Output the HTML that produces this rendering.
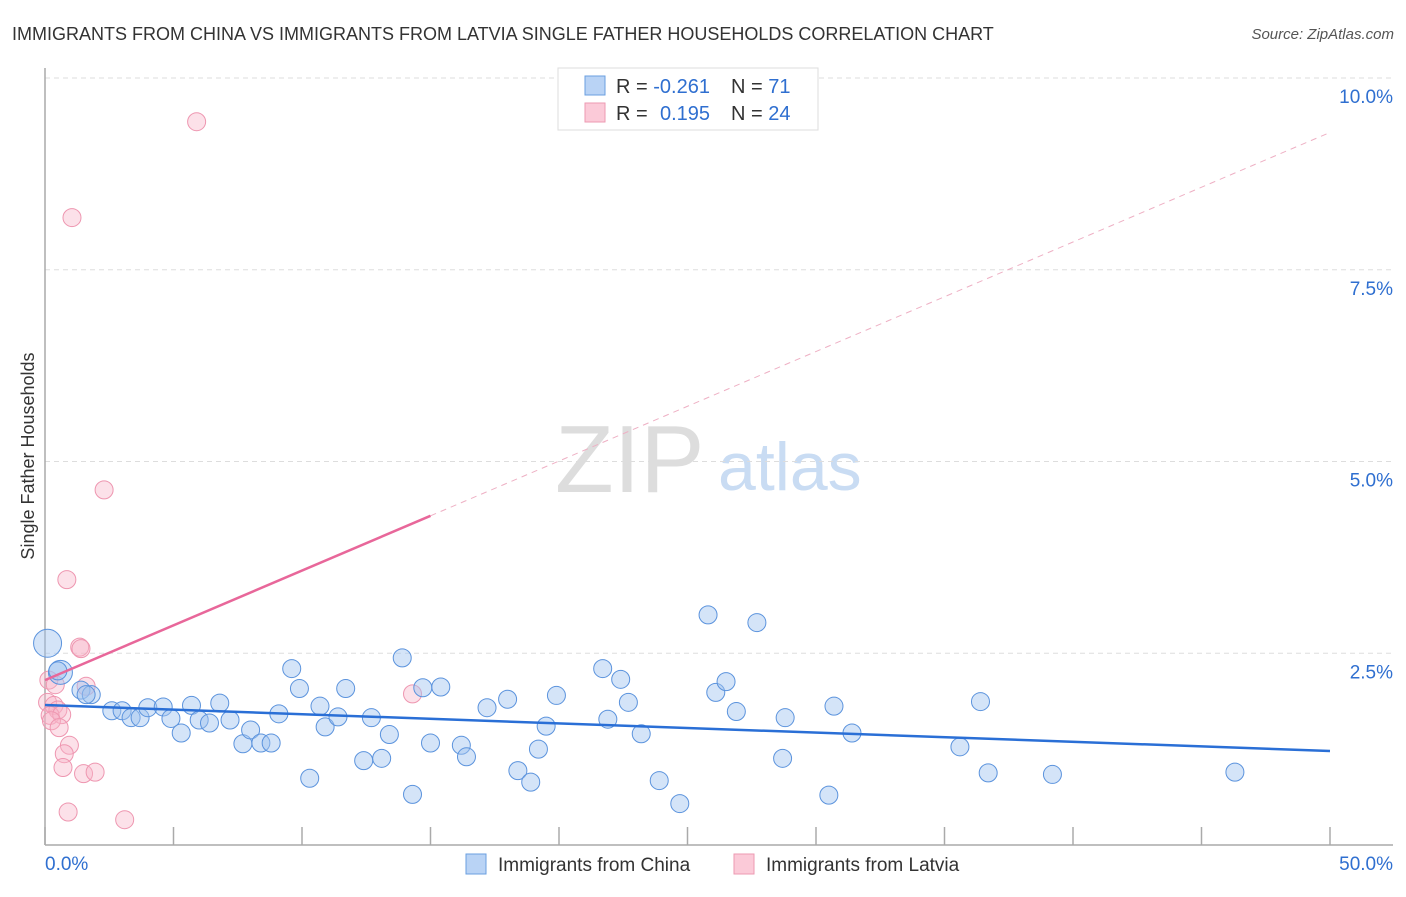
<!DOCTYPE html>
<html><head><meta charset="utf-8"><style>
body{margin:0;background:#fff;font-family:"Liberation Sans",sans-serif;}
svg text{font-family:"Liberation Sans",sans-serif;}
</style></head><body>
<svg id="chart" width="1406" height="892" xmlns="http://www.w3.org/2000/svg">
<text x="12" y="40" font-size="18" fill="#333">IMMIGRANTS FROM CHINA VS IMMIGRANTS FROM LATVIA SINGLE FATHER HOUSEHOLDS CORRELATION CHART</text>
<text x="1394" y="39" font-size="15" fill="#555" font-style="italic" text-anchor="end">Source: ZipAtlas.com</text>
<text transform="translate(34,456) rotate(-90)" font-size="18" fill="#333" text-anchor="middle">Single Father Households</text>
<text x="555" y="492" font-size="96" fill="#ddd" font-family="Liberation Serif">ZIP</text>
<text x="718" y="490" font-size="68" fill="#c9dcf3">atlas</text>
<g id="grid"></g><g id="axes"></g><g id="trends"></g><g id="pts"></g>
<g>
<rect x="558" y="68" width="260" height="62" fill="#fff" stroke="#ddd"/>
<rect x="585" y="76" width="20" height="19" fill="#b9d3f5" stroke="#6a9fe0"/>
<rect x="585" y="103" width="20" height="19" fill="#fbcad8" stroke="#ec9ab2"/>
<text x="616" y="93" font-size="20" fill="#333">R = <tspan fill="#2f6fd0">-0.261</tspan></text>
<text x="731" y="93" font-size="20" fill="#333">N = <tspan fill="#2f6fd0"> 71</tspan></text>
<text x="616" y="120" font-size="20" fill="#333">R = <tspan fill="#2f6fd0" x="660">0.195</tspan></text>
<text x="731" y="120" font-size="20" fill="#333">N = <tspan fill="#2f6fd0">24</tspan></text>
</g>
<g>
<rect x="466" y="854" width="20" height="20" fill="#b9d3f5" stroke="#6a9fe0"/>
<text x="498" y="871" font-size="19" fill="#333">Immigrants from China</text>
<rect x="734" y="854" width="20" height="20" fill="#fbcad8" stroke="#ec9ab2"/>
<text x="766" y="871" font-size="19" fill="#333">Immigrants from Latvia</text>
</g>
</svg>
<script>
const yTicks=[2.5,5,7.5,10];
const yTickLabels=["2.5%","5.0%","7.5%","10.0%"];
const xTicks=[0,5,10,15,20,25,30,35,40,45,50];
const chinaX=[0.1,0.6,0.5,1.4,1.8,1.6,2.6,3.0,3.35,3.7,4.0,4.6,4.9,5.3,5.7,6.0,6.4,6.8,7.2,7.7,8.0,8.4,8.8,9.1,9.6,9.9,10.3,10.7,10.9,11.4,11.7,12.4,12.7,13.1,13.4,13.9,14.3,14.7,15.0,15.4,16.2,16.4,17.2,18.0,18.4,18.9,19.2,19.5,19.9,21.7,21.9,22.4,22.7,23.2,23.9,24.7,25.8,26.1,26.5,26.9,27.7,28.8,28.7,30.5,30.7,31.4,35.6,36.4,36.7,39.2,46.3];
const chinaY=[2.63,2.25,2.27,2.02,1.96,1.96,1.75,1.75,1.66,1.66,1.79,1.8,1.65,1.46,1.82,1.63,1.59,1.85,1.63,1.32,1.5,1.33,1.33,1.71,2.3,2.04,0.87,1.81,1.54,1.67,2.04,1.1,1.66,1.13,1.44,2.44,0.66,2.05,1.33,2.06,1.3,1.15,1.79,1.9,0.97,0.82,1.25,1.55,1.95,2.3,1.64,2.16,1.86,1.45,0.84,0.54,3.0,1.99,2.13,1.74,2.9,1.66,1.13,0.65,1.81,1.46,1.28,1.87,0.94,0.92,0.95];
const chinaR=[14,12,9,9,9,9,9,9,9,9,9,9,9,9,9,9,9,9,9,9,9,9,9,9,9,9,9,9,9,9,9,9,9,9,9,9,9,9,9,9,9,9,9,9,9,9,9,9,9,9,9,9,9,9,9,9,9,9,9,9,9,9,9,9,9,9,9,9,9,9,9];
const latviaX=[5.9,1.05,2.3,0.85,1.35,1.4,1.6,0.15,0.4,0.1,0.35,0.5,0.2,0.65,0.25,0.55,0.95,0.75,0.7,1.5,1.95,0.9,3.1,14.3];
const latviaY=[9.43,8.18,4.63,3.46,2.58,2.56,2.07,2.15,2.09,1.86,1.82,1.76,1.69,1.7,1.62,1.53,1.3,1.19,1.01,0.93,0.95,0.43,0.33,1.97];
const chinaTrend=[1.825,1.226];
const latviaTrend=[2.15,9.29];
const latviaSolidEnd=15;
const NS="http://www.w3.org/2000/svg";
const X=v=>45+v*25.7, Y=v=>845-v*76.7;
function mk(tag,attrs,parent){const e=document.createElementNS(NS,tag);for(const k in attrs)e.setAttribute(k,attrs[k]);document.getElementById(parent).appendChild(e);return e;}
yTicks.forEach((t,i)=>{
 const l=mk('line',{x1:45,x2:1393,y1:Y(t),y2:Y(t),stroke:'#ddd','stroke-dasharray':'5,4'},'grid');
 
 
 const tx=mk('text',{x:1393,y:Y(t)+25,'font-size':19,fill:'#2f6fd0','text-anchor':'end'},'grid');
 tx.textContent=yTickLabels[i];
 
 
});
const ax=mk('line',{x1:45,x2:45,y1:68,y2:845,stroke:'#aaa','stroke-width':1.5},'axes');


const bx=mk('line',{x1:45,x2:1393,y1:845,y2:845,stroke:'#aaa','stroke-width':1.5},'axes');


xTicks.forEach(t=>{const l=mk('line',{x1:X(t),x2:X(t),y1:827,y2:845,stroke:'#aaa','stroke-width':1.5},'axes');
 
 });
const xl0=mk('text',{x:45,y:870,'font-size':19,fill:'#2f6fd0'},'axes');xl0.textContent='0.0%';


const xl1=mk('text',{x:1393,y:870,'font-size':19,fill:'#2f6fd0','text-anchor':'end'},'axes');xl1.textContent='50.0%';


const ly=x=>latviaTrend[0]+(latviaTrend[1]-latviaTrend[0])*x/50;
const pd=mk('line',{x1:X(latviaSolidEnd),y1:Y(ly(latviaSolidEnd)),x2:X(50),y2:Y(ly(50)),stroke:'#eeb0c4','stroke-width':1,'stroke-dasharray':'6,5'},'trends');


latviaX.forEach((x,i)=>{const c=mk('circle',{cx:X(x),cy:Y(latviaY[i]),r:9,fill:'rgba(248,180,200,0.4)',stroke:'#ee96b0','stroke-width':1},'pts');
 
 });
chinaX.forEach((x,i)=>{const c=mk('circle',{cx:X(x),cy:Y(chinaY[i]),r:chinaR[i],fill:'rgba(160,196,240,0.45)',stroke:'#5b93dd','stroke-width':1},'pts');
 
 });
const bt=mk('line',{x1:X(0),y1:Y(chinaTrend[0]),x2:X(50),y2:Y(chinaTrend[1]),stroke:'#2a6fd6','stroke-width':2.5},'pts');


const ps=mk('line',{x1:X(0),y1:Y(ly(0)),x2:X(latviaSolidEnd),y2:Y(ly(latviaSolidEnd)),stroke:'#e8679a','stroke-width':2.5},'pts');


</script>
</body></html>
